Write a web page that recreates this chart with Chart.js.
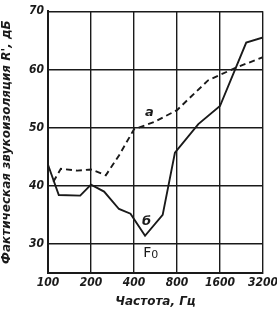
<!DOCTYPE html>
<html>
<head>
<meta charset="utf-8">
<script src="https://cdn.jsdelivr.net/npm/chart.js@4/dist/chart.umd.min.js"></script>
<style>
  body { margin: 0; background: #fff; }
  canvas { display: block; }
</style>
</head>
<body>
<canvas id="chart" width="277" height="309"></canvas>
<script>
const xTicks = [100, 200, 400, 800, 1600, 3200];
const yTicks = [30, 40, 50, 60, 70];

// curve "а" (dashed)
const freqA = [109, 123, 160, 200, 254, 314, 400, 560, 800, 1318, 2070, 3200];
const valuesA = [40.7, 42.9, 42.6, 42.8, 41.8, 45.2, 49.7, 51.0, 53.0, 58.1, 60.3, 62.1];

// curve "б" (solid)
const freqB = [100, 119, 168, 200, 247, 314, 378, 478, 635, 774, 1128, 1600, 2442, 3200];
const valuesB = [43.6, 38.4, 38.3, 40.2, 39.0, 36.0, 35.2, 31.4, 35.0, 45.7, 50.6, 53.7, 64.6, 65.5];

const tickFamily = '"Liberation Sans Narrow", "DejaVu Sans Condensed", sans-serif';
const titleFamily = '"DejaVu Sans", sans-serif';
const ink = '#1a1a1a';

// text marks on the plot: curve names and the resonance frequency
const curveLabels = {
  id: 'curveLabels',
  afterDatasetsDraw(chart) {
    const ctx = chart.ctx;
    const x = chart.scales.x;
    const y = chart.scales.y;
    ctx.save();
    ctx.fillStyle = ink;
    ctx.textAlign = 'center';
    ctx.textBaseline = 'middle';
    ctx.font = `italic bold 13px ${titleFamily}`;
    ctx.fillText('а', x.getPixelForValue(513), y.getPixelForValue(52.5));
    ctx.fillText('б', x.getPixelForValue(489), y.getPixelForValue(33.8));
    const fx = x.getPixelForValue(520);
    const fy = y.getPixelForValue(28.4);
    ctx.font = `14px ${titleFamily}`;
    ctx.textAlign = 'right';
    ctx.fillText('F', fx + 1, fy);
    ctx.font = `11px ${titleFamily}`;
    ctx.textAlign = 'left';
    ctx.fillText('0', fx + 1, fy + 2);
    ctx.restore();
  }
};

const tickFont = {family: tickFamily, size: 12, style: 'italic', weight: 'bold'};
const titleFont = {family: titleFamily, size: 12, style: 'italic', weight: 'bold'};

new Chart(document.getElementById('chart'), {
  type: 'line',
  data: {
    datasets: [{
      label: 'а',
      data: freqA.map((f, i) => ({x: f, y: valuesA[i]})),
      borderColor: ink,
      borderWidth: 1.9,
      borderDash: [6, 4],
      pointRadius: 0,
      tension: 0,
      fill: false
    }, {
      label: 'б',
      data: freqB.map((f, i) => ({x: f, y: valuesB[i]})),
      borderColor: ink,
      borderWidth: 1.9,
      pointRadius: 0,
      tension: 0,
      fill: false
    }]
  },
  options: {
    responsive: false,
    animation: false,
    layout: {padding: {top: 9, right: 14, left: 0, bottom: 0}},
    plugins: {legend: {display: false}, tooltip: {enabled: false}},
    scales: {
      x: {
        type: 'logarithmic',
        min: 100,
        max: 3200,
        afterBuildTicks: (scale) => { scale.ticks = xTicks.map((v) => ({value: v})); },
        afterFit: (scale) => {
          scale.height = 36;
          scale.paddingLeft = 0;
          scale.paddingRight = 0;
        },
        grid: {color: ink, lineWidth: 1.4, drawTicks: false},
        border: {color: ink, width: 2},
        ticks: {color: ink, font: tickFont, padding: 3, maxRotation: 0, callback: (v) => String(v)},
        title: {display: true, text: 'Частота, Гц', color: ink, font: titleFont, padding: 0}
      },
      y: {
        min: 25,
        max: 70,
        afterBuildTicks: (scale) => { scale.ticks = yTicks.map((v) => ({value: v})); },
        afterFit: (scale) => { scale.width = 48; },
        grid: {color: ink, lineWidth: 1.4, drawTicks: false},
        border: {color: ink, width: 2},
        ticks: {color: ink, font: tickFont, padding: 4},
        title: {display: true, text: "Фактическая звукоизоляция R', дБ", color: ink, font: titleFont, padding: 0}
      }
    }
  },
  plugins: [curveLabels]
});
</script>
</body>
</html>
